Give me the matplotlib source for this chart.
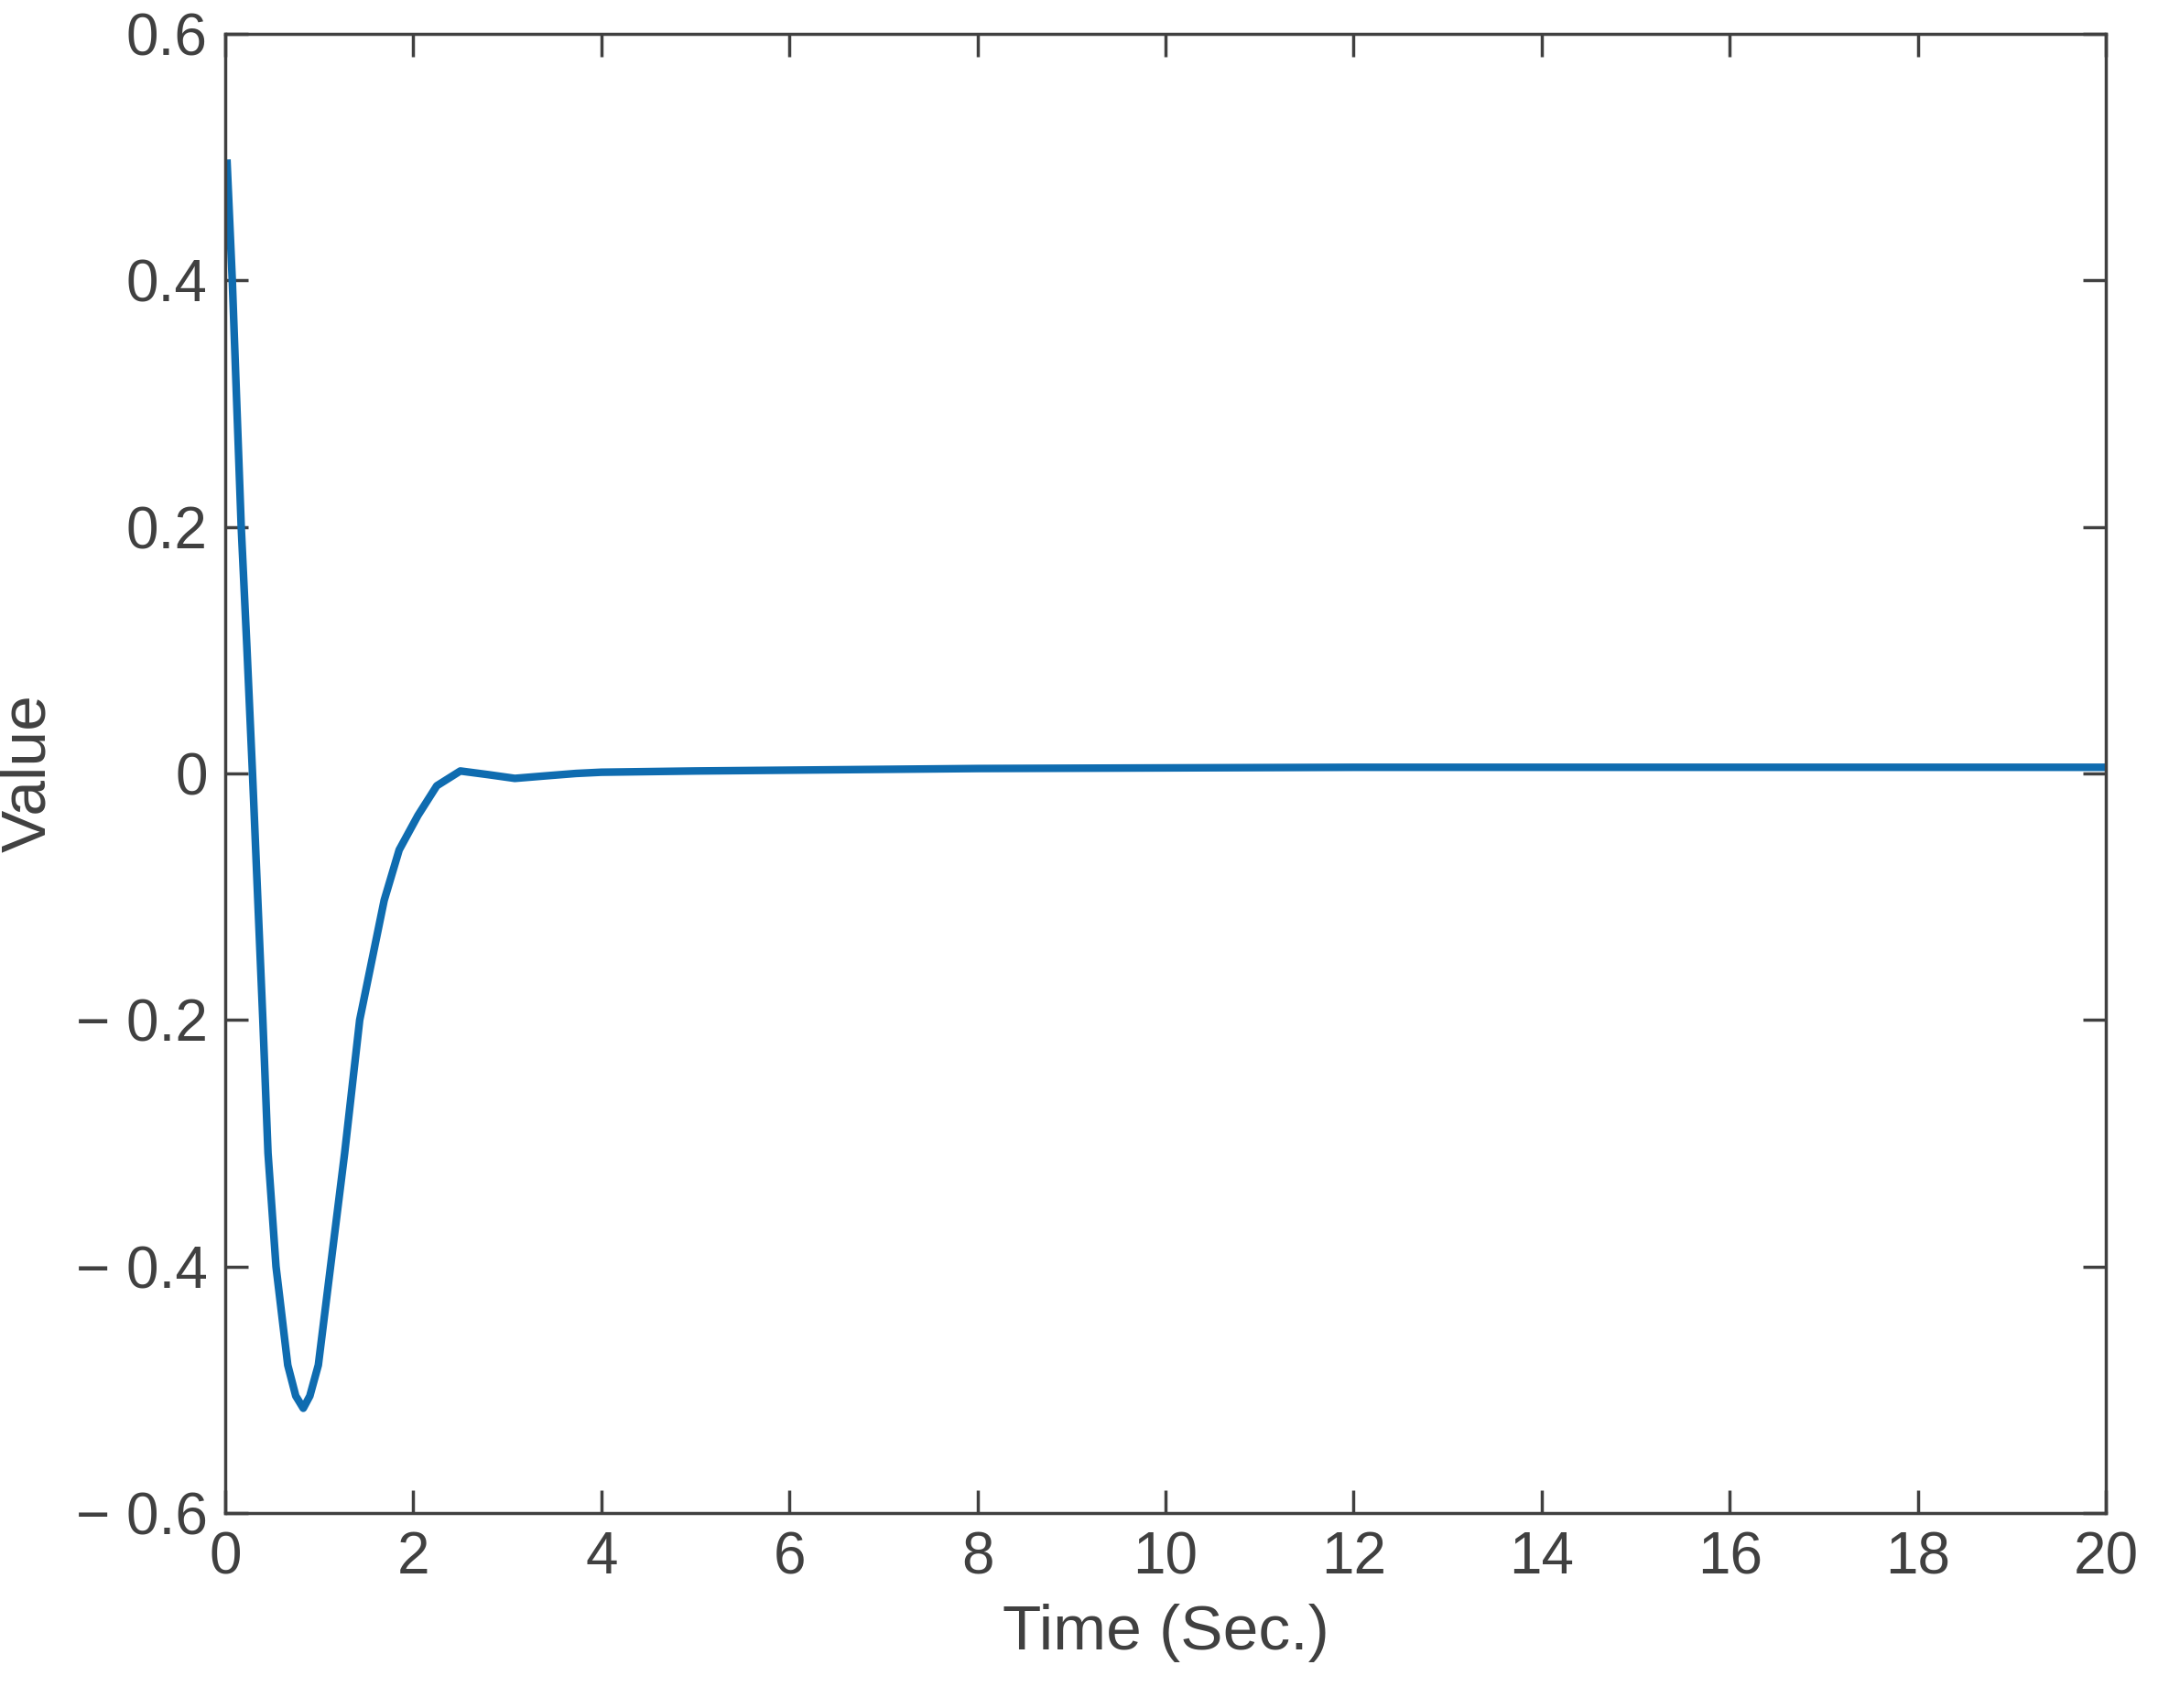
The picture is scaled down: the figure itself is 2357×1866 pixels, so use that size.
import matplotlib
matplotlib.use("Agg")
import matplotlib.pyplot as plt
from matplotlib.ticker import FuncFormatter

time = [0.02, 0.075, 0.17, 0.23, 0.29, 0.40, 0.455, 0.54, 0.665, 0.75, 0.83, 0.9, 0.99,
        1.12, 1.27, 1.43, 1.69, 1.85, 2.05, 2.25, 2.5, 2.8, 3.08, 3.4, 3.73, 4.0, 5, 8, 12, 16, 20]
value = [0.495, 0.4, 0.2, 0.103, 0.0, -0.2, -0.308, -0.4, -0.48, -0.505, -0.515, -0.505, -0.48,
         -0.4, -0.308, -0.2, -0.103, -0.062, -0.034, -0.01, 0.002, -0.001, -0.004, -0.002, 0.0,
         0.001, 0.002, 0.004, 0.005, 0.005, 0.005]

xticks = list(range(0, 21, 2))
yticks = [-0.6, -0.4, -0.2, 0, 0.2, 0.4, 0.6]

plt.rcParams['font.family'] = ['Liberation Sans', 'DejaVu Sans']
fig = plt.figure(figsize=(23.57, 18.66), dpi=100)
ax = fig.add_axes([246/2357, 1-1653/1866, 2054/2357, (1653-37)/1866])
ax.plot(time, value, color='#0f6cb0', lw=6, solid_joinstyle='round')
ax.set_xlim(0, 20)
ax.set_ylim(-0.6, 0.6)
ax.set_xticks(xticks)
ax.set_yticks(yticks)
tc = '#404040'
def fmt(v, p):
    if abs(v) < 1e-9:
        return '0'
    s = ('%g' % abs(v))
    return ('\u2212 ' + s) if v < 0 else s
ax.yaxis.set_major_formatter(FuncFormatter(fmt))
ax.tick_params(direction='in', length=18, width=2.5, colors=tc, labelsize=46,
               top=True, right=True, pad=14)
for s in ax.spines.values():
    s.set_color(tc); s.set_linewidth(2.5)
ax.set_xlabel('Time (Sec.)', fontsize=50, color=tc, labelpad=14)
ax.set_ylabel('Value', fontsize=50, color=tc, labelpad=14)
fig.savefig('out.png', dpi=100)
